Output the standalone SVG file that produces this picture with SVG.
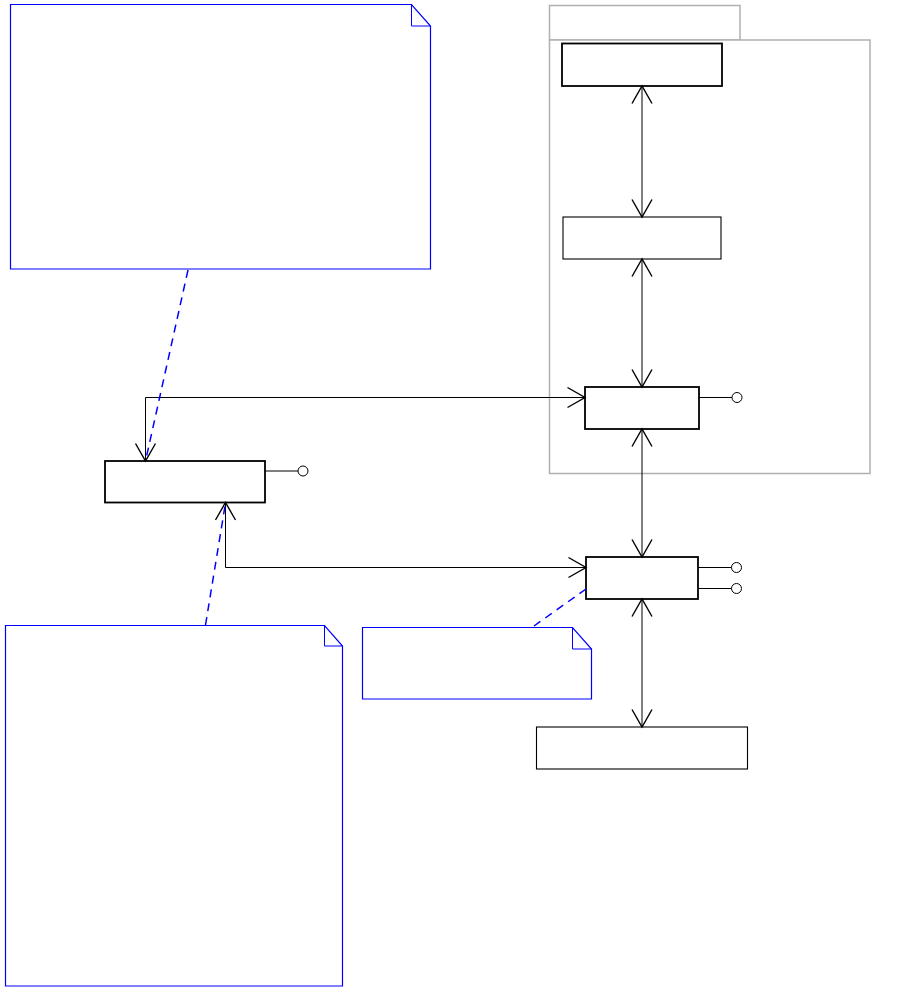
<svg xmlns="http://www.w3.org/2000/svg" width="900" height="990" viewBox="0 0 900 990">
<style>
.note{fill:#fff;stroke:#0000ff;stroke-width:1.2}
.fold{fill:none;stroke:#0000ff;stroke-width:1}
.anchor{fill:none;stroke:#0000ff;stroke-width:1.5;stroke-dasharray:8,6}
.pkg{fill:#fff;stroke:#b0b0b0;stroke-width:1.5}
.comp{fill:#fff;stroke:#000;stroke-width:1.8}
.compthin{fill:#fff;stroke:#000;stroke-width:1.1}
.conn{fill:none;stroke:#000;stroke-width:1;marker-start:url(#oa);marker-end:url(#oa)}
.lol{stroke:#000;stroke-width:1;fill:none}
.lolc{fill:#fff;stroke:#000;stroke-width:1}
</style>
<defs>
<marker id="oa" markerUnits="userSpaceOnUse" viewBox="-20 -12 22 24" refX="0" refY="0" markerWidth="22" markerHeight="24" orient="auto-start-reverse" overflow="visible">
<path d="M-17.5,-10 L0,0 L-17.5,10" fill="none" stroke="#000" stroke-width="1.4"/>
</marker>
</defs>
<rect width="900" height="990" fill="#fff"/>
<g id="package">
<rect class="pkg" x="549.5" y="5.5" width="190.5" height="34.5"/>
<rect class="pkg" x="549.5" y="40" width="320.5" height="433.5"/>
</g>
<g id="note1">
<path class="note" d="M10.5,4.5 H411.5 L430.5,26 V269 H10.5 Z"/>
<path class="fold" d="M411.5,4.5 V26 H430.5"/>
</g>
<g id="note2">
<path class="note" d="M362.5,627.5 H572.5 L591.5,649 V699 H362.5 Z"/>
<path class="fold" d="M572.5,627.5 V649 H591.5"/>
</g>
<g id="note3">
<path class="note" d="M5.5,625.5 H324.5 L342.5,646 V986 H5.5 Z"/>
<path class="fold" d="M324.5,625.5 V646 H342.5"/>
</g>
<g id="nodeA"><rect class="comp" x="562" y="43.5" width="160" height="42.5"/></g>
<g id="nodeB"><rect class="compthin" x="563" y="217" width="158" height="42"/></g>
<g id="nodeC">
<rect class="comp" x="585" y="387" width="114" height="42"/>
<line class="lol" x1="699" y1="397.5" x2="732" y2="397.5"/>
<circle class="lolc" cx="737" cy="397.5" r="5"/>
</g>
<g id="nodeD">
<rect class="comp" x="586" y="557" width="112" height="42"/>
<line class="lol" x1="698" y1="567.5" x2="731.5" y2="567.5"/>
<circle class="lolc" cx="736.5" cy="567.5" r="5"/>
<line class="lol" x1="698" y1="588.5" x2="731.5" y2="588.5"/>
<circle class="lolc" cx="736.5" cy="588.5" r="5"/>
</g>
<g id="nodeE">
<rect class="comp" x="105" y="461" width="160" height="41.5"/>
<line class="lol" x1="265" y1="471" x2="298" y2="471"/>
<circle class="lolc" cx="303" cy="471" r="5"/>
</g>
<g id="nodeF"><rect class="compthin" x="536.5" y="727" width="211" height="42"/></g>
<g id="connectors">
<line class="conn" x1="642" y1="86" x2="642" y2="217"/>
<line class="conn" x1="642" y1="259" x2="642" y2="387"/>
<line class="conn" x1="642" y1="429" x2="642" y2="557"/>
<line class="conn" x1="642" y1="599" x2="642" y2="727"/>
<polyline class="conn" points="145.5,461 145.5,397.5 585,397.5"/>
<polyline class="conn" points="225.5,502.5 225.5,567.5 586,567.5"/>
<line class="anchor" x1="188" y1="270" x2="145.5" y2="461"/>
<line class="anchor" x1="205.5" y1="625" x2="225.5" y2="503"/>
<line class="anchor" x1="586" y1="589" x2="534" y2="626"/>
</g>
</svg>
